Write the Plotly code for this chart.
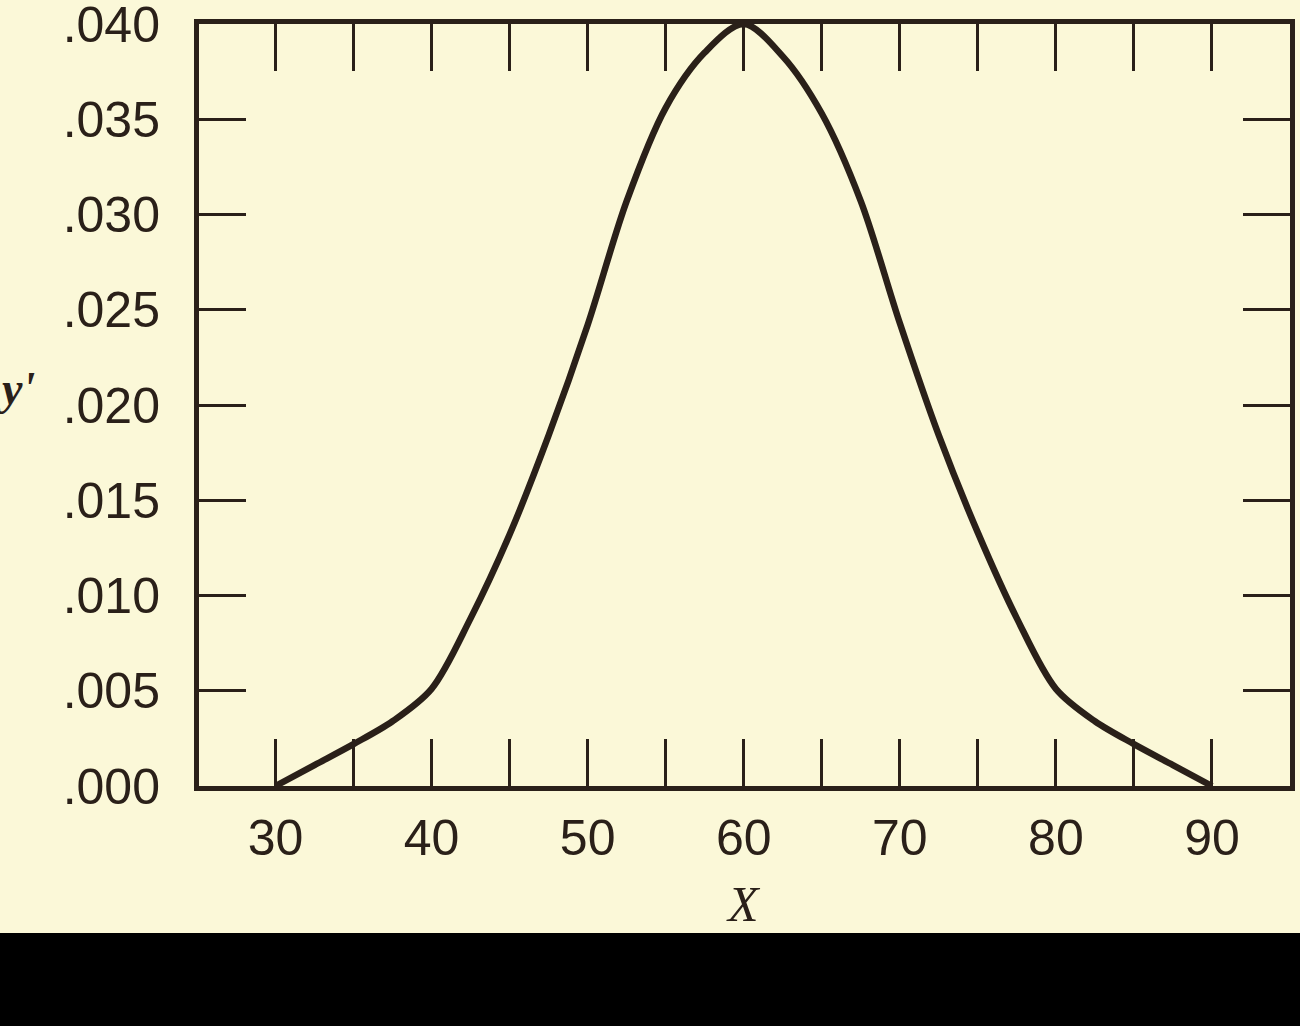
import plotly.graph_objects as go

# Data
x_values = [30, 32.5, 35, 37.5, 40, 42.5, 45, 47.5, 50, 52.5, 55, 57.5, 60,
            62.5, 65, 67.5, 70, 72.5, 75, 77.5, 80, 82.5, 85, 87.5, 90]
y_values = [0.0000, 0.0011, 0.0022, 0.0034, 0.0051, 0.0088, 0.0132, 0.0184,
            0.0242, 0.0307, 0.0356, 0.0385, 0.0400, 0.0383, 0.0353, 0.0307,
            0.0243, 0.0184, 0.0133, 0.0088, 0.0051, 0.0034, 0.0022, 0.0011, 0.0000]

x_tick_vals = [30, 35, 40, 45, 50, 55, 60, 65, 70, 75, 80, 85, 90]
x_tick_text = ["30", "", "40", "", "50", "", "60", "", "70", "", "80", "", "90"]
y_tick_vals = [0.000, 0.005, 0.010, 0.015, 0.020, 0.025, 0.030, 0.035, 0.040]
y_tick_text = [".000", ".005", ".010", ".015", ".020", ".025", ".030", ".035", ".040"]

INK = "#2A2019"
BG = "#FBF8D8"
TICK_FONT = dict(family="Liberation Sans, Arial, sans-serif", size=50, color=INK)

fig = go.Figure()
fig.add_trace(go.Scatter(
    x=x_values, y=y_values, mode="lines",
    line=dict(color=INK, width=6.5, shape="spline", smoothing=0.9),
    hoverinfo="skip", showlegend=False,
))

fig.update_layout(
    width=1300, height=1026,
    margin=dict(l=199, r=10, t=24, b=240, autoexpand=False),
    paper_bgcolor=BG, plot_bgcolor=BG,
    showlegend=False,
)

fig.update_xaxes(
    range=[25.1, 95.0], automargin=False,
    tickmode="array", tickvals=x_tick_vals, ticktext=x_tick_text,
    ticks="inside", ticklen=47, tickwidth=3, tickcolor=INK,
    showline=True, linewidth=5, linecolor=INK, mirror="ticks",
    showgrid=False, zeroline=False,
    tickfont=TICK_FONT, ticklabelstandoff=4,
)
fig.update_yaxes(
    range=[0, 0.040], automargin=False,
    tickmode="array", tickvals=y_tick_vals, ticktext=y_tick_text,
    ticks="inside", ticklen=47, tickwidth=3, tickcolor=INK,
    showline=True, linewidth=5, linecolor=INK, mirror="ticks",
    showgrid=False, zeroline=False,
    tickfont=TICK_FONT, ticklabelstandoff=24, ticklabeloverflow="allow",
)

# axis titles as annotations
fig.add_annotation(
    text="<b><i>y'</i></b>", xref="paper", yref="paper",
    x=-0.168, y=0.522, xanchor="center", yanchor="middle", showarrow=False,
    font=dict(family="Liberation Serif, DejaVu Serif, serif", size=46, color=INK),
)
fig.add_annotation(
    text="<i>X</i>", xref="paper", yref="paper",
    x=0.4995, y=-0.115, xanchor="center", yanchor="top", showarrow=False,
    font=dict(family="Liberation Serif, DejaVu Serif, serif", size=50, color=INK),
)

# dark band along the bottom edge of the picture
fig.add_shape(type="rect", xref="paper", yref="paper",
              x0=-0.2, x1=1.01, y0=-0.32, y1=-0.193,
              fillcolor="#000000", line=dict(width=0), layer="above")

fig.write_html("out.html", config={"displayModeBar": False},
               post_script="document.body.style.margin='0';")
